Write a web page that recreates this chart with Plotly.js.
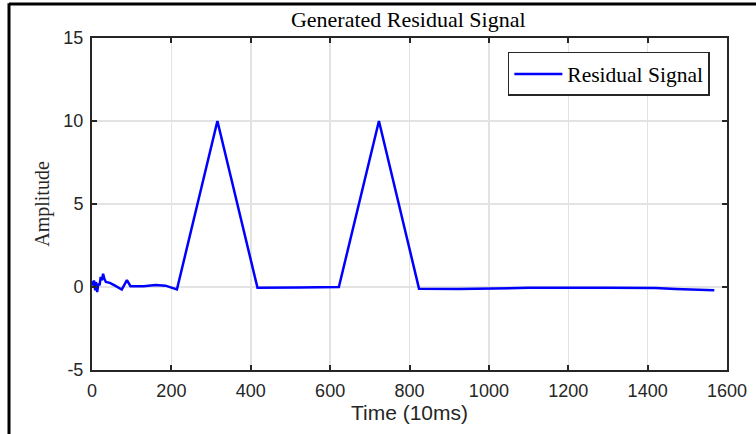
<!DOCTYPE html>
<html><head><meta charset="utf-8">
<script src="https://cdn.plot.ly/plotly-3.0.1.min.js"></script>
<style>html,body{margin:0;padding:0;background:#fff;}#chart{width:756px;height:434px;}</style>
</head><body><div id="chart"></div>
<script>
// Residual signal vertices (time in 10ms units, amplitude)
const timeSamples = [0, 3, 5, 8, 10, 13, 16, 19, 22, 25, 28, 31, 35, 45, 58, 75, 88, 97, 130, 160, 185, 214, 316, 417, 520, 622, 723, 824, 925, 1000, 1100, 1300, 1420, 1470, 1568];
const residualValues = [0.35, 0.1, 0.4, -0.2, 0.3, -0.3, 0.2, 0.1, 0.6, 0.4, 0.8, 0.5, 0.3, 0.25, 0.08, -0.15, 0.42, 0.05, 0.05, 0.12, 0.08, -0.15, 10, -0.05, -0.03, 0, 10, -0.1, -0.12, -0.08, -0.05, -0.05, -0.06, -0.12, -0.2];
const xTicks = [0, 200, 400, 600, 800, 1000, 1200, 1400, 1600];
const yTicks = [-5, 0, 5, 10, 15];
const seriesName = 'Residual Signal';

const serif = 'Liberation Serif, Times New Roman, serif';
const sans = 'Liberation Sans, Arial, sans-serif';

const trace = {
  x: timeSamples, y: residualValues, type: 'scatter', mode: 'lines',
  name: seriesName, line: {color: '#0000ff', width: 2.5}
};

const axisCommon = {
  showline: true, mirror: 'ticks', linecolor: '#262626', linewidth: 2,
  ticks: 'inside', ticklen: 5, tickwidth: 2, tickcolor: '#262626',
  showgrid: true, gridcolor: '#e3e3e3', gridwidth: 1.5, zeroline: false,
  tickfont: {family: sans, size: 18, color: '#262626'}
};

const layout = {
  width: 756, height: 434,
  margin: {l: 92, r: 29, t: 38, b: 64},
  paper_bgcolor: '#fff', plot_bgcolor: '#fff',
  title: {text: 'Generated Residual Signal', font: {family: serif, size: 22, color: '#000'}, x: 0.54, xanchor: 'center', y: 0.955, yanchor: 'middle'},
  xaxis: Object.assign({}, axisCommon, {range: [0, 1600], tickvals: xTicks, ticktext: xTicks.map(String), ticklabelstandoff: 3,
    title: {text: 'Time (10ms)', font: {family: sans, size: 21, color: '#262626'}, standoff: 4}}),
  yaxis: Object.assign({}, axisCommon, {range: [-5, 15], tickvals: yTicks, ticktext: yTicks.map(String), ticklabelstandoff: 3,
    title: {text: 'Amplitude', font: {family: serif, size: 20, color: '#262626'}, standoff: 8}}),
  showlegend: true,
  legend: {x: 0.973, xanchor: 'right', y: 0.958, yanchor: 'top', bgcolor: '#fff', bordercolor: '#262626', borderwidth: 1.5,
    itemwidth: 48, font: {family: serif, size: 21.5, color: '#000'}},
  shapes: [
    {type: 'line', xref: 'paper', yref: 'paper', x0: -0.1307, x1: -0.1307, y0: 1.105, y1: -0.25, line: {color: '#000', width: 3}},
    {type: 'line', xref: 'paper', yref: 'paper', x0: -0.1307, x1: 1.1, y0: 1.1024, y1: 1.1024, line: {color: '#000', width: 3}}
  ]
};

Plotly.newPlot('chart', [trace], layout, {displayModeBar: false, staticPlot: true});
</script></body></html>
